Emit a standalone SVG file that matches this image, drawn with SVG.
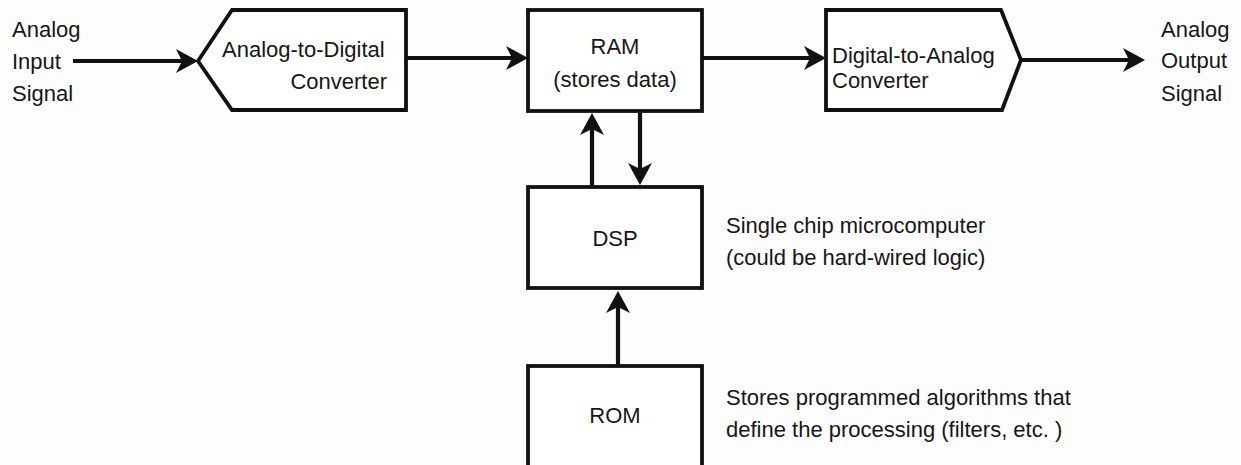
<svg xmlns="http://www.w3.org/2000/svg" width="1241" height="465" viewBox="0 0 1241 465">
  <style>
    .box { fill: #ffffff; stroke: #111; stroke-width: 3.8; stroke-linejoin: miter; }
    .conn { fill: none; stroke: #111; stroke-width: 4.2; marker-end: url(#arrow); }
    text { font-family: "Liberation Sans", Arial, sans-serif; font-size: 22px; fill: #161616; }
    .c { text-anchor: middle; }
    .e { text-anchor: end; }
  </style>
  <defs>
    <marker id="arrow" markerUnits="userSpaceOnUse" viewBox="-12 -13 26 26" refX="0" refY="0" markerWidth="26" markerHeight="26" orient="auto">
      <path d="M12,0 L-10,-12 L-4,0 L-10,12 Z" fill="#111"/>
    </marker>
  </defs>
  <rect x="0" y="0" width="1241" height="465" fill="#fdfdfd"/>

  <g id="input-label">
    <text x="12" y="37">Analog</text>
    <text x="12" y="69">Input</text>
    <text x="12" y="101">Signal</text>
  </g>

  <g id="adc">
    <polygon class="box" points="198,61 232,10 406,10 406,110 232,110"/>
    <text x="222" y="57">Analog-to-Digital</text>
    <text class="e" x="387" y="89">Converter</text>
  </g>

  <g id="ram">
    <rect class="box" x="528" y="10" width="174" height="101"/>
    <text class="c" x="615" y="54">RAM</text>
    <text class="c" x="615" y="87">(stores data)</text>
  </g>

  <g id="dac">
    <polygon class="box" points="826,10 1001,10 1021,60 1002,110 826,110"/>
    <text x="832" y="63">Digital-to-Analog</text>
    <text x="832" y="88">Converter</text>
  </g>

  <g id="output-label">
    <text x="1161" y="37">Analog</text>
    <text x="1161" y="68">Output</text>
    <text x="1161" y="101">Signal</text>
  </g>

  <g id="dsp">
    <rect class="box" x="528" y="187" width="174" height="101"/>
    <text class="c" x="615" y="246">DSP</text>
  </g>

  <g id="dsp-note">
    <text x="726" y="233">Single chip microcomputer</text>
    <text x="726" y="265">(could be hard-wired logic)</text>
  </g>

  <g id="rom">
    <rect class="box" x="528" y="366" width="174" height="130"/>
    <text class="c" x="615" y="423">ROM</text>
  </g>

  <g id="rom-note">
    <text x="726" y="405">Stores programmed algorithms that</text>
    <text x="726" y="437">define the processing (filters, etc. )</text>
  </g>

  <g id="connectors">
    <line class="conn" x1="73" y1="61" x2="186" y2="61"/>
    <line class="conn" x1="406" y1="58" x2="516" y2="58"/>
    <line class="conn" x1="702" y1="58" x2="814" y2="58"/>
    <line class="conn" x1="1021" y1="60" x2="1133" y2="60"/>
    <line class="conn" x1="592" y1="187" x2="592" y2="125"/>
    <line class="conn" x1="640" y1="111" x2="640" y2="173"/>
    <line class="conn" x1="618" y1="366" x2="618" y2="303"/>
  </g>
</svg>
